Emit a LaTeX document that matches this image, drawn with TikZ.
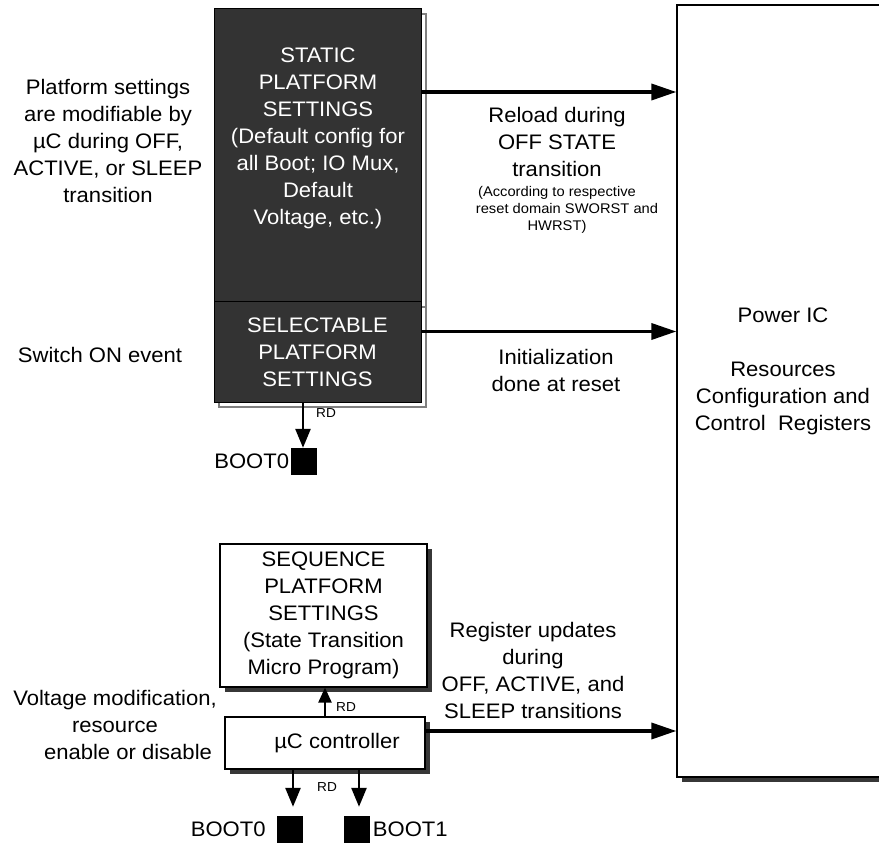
\documentclass[tikz,border=0pt]{standalone}
\usepackage{fontspec}
\setmainfont[FakeStretch=1.05]{Liberation Sans}
\usetikzlibrary{arrows.meta,positioning,shadows}
\definecolor{panel}{RGB}{51,51,51}
\definecolor{shade}{RGB}{55,55,55}
\tikzset{
  big/.style={font=\fontsize{21}{27}\selectfont,align=center,inner sep=0pt},
  small/.style={font=\fontsize{14}{17}\selectfont,align=center,inner sep=0pt},
  rd/.style={font=\fontsize{13}{14}\selectfont,inner sep=0pt},
  darkbox/.style={draw=black,line width=1pt,fill=panel,inner sep=0pt,text=white,
    general shadow={shadow xshift=5pt,shadow yshift=-5pt,fill=white,draw=gray,line width=1.5pt}},
  whitebox/.style={draw=black,line width=1.2pt,fill=white,inner sep=0pt,
    general shadow={shadow xshift=5pt,shadow yshift=-5pt,fill=shade}},
  bootpin/.style={fill=black,minimum width=26pt,minimum height=27pt,inner sep=0pt},
  bigarr/.style={line width=3.5pt,-{Triangle[length=25pt,width=16pt]}},
  rdarr/.style={line width=2.6pt,-{Triangle[length=19pt,width=15pt]}},
}
\begin{document}
\begin{tikzpicture}[x=1pt,y=-1pt]
\useasboundingbox (0,0) rectangle (879,845);
% boxes
\node[darkbox,minimum width=207pt,minimum height=293pt] (static) at (317.5,155.5) {};
\node[big,text=white] (staticTxt) at (318,138.5) {STATIC\\PLATFORM\\SETTINGS\\(Default config for\\all Boot; IO Mux,\\Default\\Voltage, etc.)};
\node[darkbox,big,minimum width=207pt,minimum height=100pt] (select) at (317.5,352) {SELECTABLE\\PLATFORM\\SETTINGS};
\node[whitebox,big,minimum width=207pt,minimum height=143pt] (seq) at (323.5,615.5) {SEQUENCE\\PLATFORM\\SETTINGS\\(State Transition\\Micro Program)};
\node[whitebox,big,minimum width=200pt,minimum height=52pt] (uc) at (325,743) {\hspace*{24pt}µC controller};
\node[whitebox,minimum width=212pt,minimum height=772pt] (pic) at (783,391) {};
\node[big] (picTxt) at (783,371.5) {Power IC\\[27pt]Resources\\Configuration and\\Control\ \ Registers};
% boot pins
\node[bootpin] (bt) at (303.5,461.5) {};
\node[big,left=1pt of bt] (btLbl) {BOOT0};
\node[bootpin] (b0) at (290,829.5) {};
\node[bootpin] (b1) at (356.5,829.5) {};
\node[big,left=11pt of b0] (b0Lbl) {BOOT0};
\node[big,right=3pt of b1] (b1Lbl) {BOOT1};
% side notes
\node[big] (modNote) at (108,140.5) {Platform settings\\are modifiable by\\µC during OFF,\\ACTIVE, or SLEEP\\transition};
\node[big] (swOn) at (100,355) {Switch ON event};
\node[big] (voltNote) at (115,724.5) {Voltage modification,\\resource\hspace*{24pt}\\\hspace*{26pt}enable or disable};
\node[big] (reload) at (557,142) {Reload during\\OFF STATE\\transition};
\node[small] (reloadNote) at (557,210) {(According to respective\\\hspace*{20pt}reset domain SWORST and\\HWRST)};
\node[big] (initTxt) at (556,370.5) {Initialization\\done at reset};
\node[big] (regTxt) at (533,670.5) {Register updates\\during\\OFF, ACTIVE, and\\SLEEP transitions};
% arrows to the power IC
\coordinate (a1) at ([yshift=63.5pt]static.east);
\coordinate (a2) at ([yshift=20.5pt]select.east);
\coordinate (a3) at ([yshift=12pt]uc.east);
\draw[bigarr] (a1) -- (a1 -| pic.west);
\draw[bigarr] (a2) -- (a2 -| pic.west);
\draw[bigarr] (a3) -- (a3 -| pic.west);
% RD arrows
\coordinate (s0) at ([xshift=-14.5pt]select.south);
\draw[rdarr] (s0) -- (s0 |- bt.north);
\node[rd,anchor=west] (rdTop) at (316,413) {RD};
\draw[line width=2.4pt,-{Triangle[length=15pt,width=13pt]}] (uc.north) -- (uc.north |- seq.south);
\node[rd,anchor=west] (rdUp) at (336,707) {RD};
\coordinate (c0) at ([xshift=-32pt]uc.south);
\coordinate (c1) at ([xshift=34pt]uc.south);
\draw[rdarr,shorten >=9pt] (c0) -- (c0 |- b0.north);
\draw[rdarr,shorten >=9pt] (c1) -- (c1 |- b1.north);
\node[rd] (rdLow) at (327,787) {RD};
\end{tikzpicture}
\end{document}
